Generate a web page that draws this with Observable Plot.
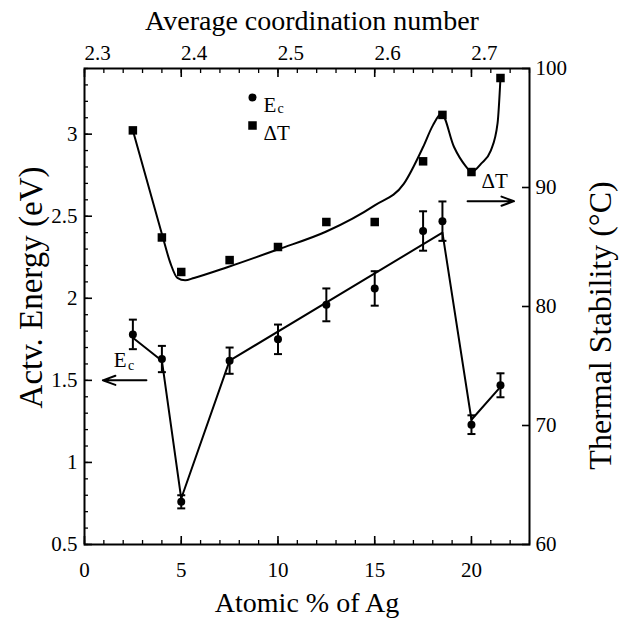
<!DOCTYPE html>
<html>
<head>
<meta charset="utf-8">
<script src="https://cdn.jsdelivr.net/npm/d3@7"></script>
<script src="https://cdn.jsdelivr.net/npm/@observablehq/plot@0.6"></script>
<style>
  html, body { margin: 0; padding: 0; background: #fff; }
  #chart { width: 623px; height: 624px; }
  #chart svg { font-family: "Liberation Serif", "Times New Roman", serif !important; }
</style>
</head>
<body>
<div id="chart"></div>
<script>
// ---- data ----
const agPct     = [2.5, 4, 5, 7.5, 10, 12.5, 15, 17.5, 18.5, 20, 21.5];
const ecValues  = [1.78, 1.63, 0.76, 1.62, 1.75, 1.96, 2.06, 2.41, 2.47, 1.23, 1.47];
const ecErrors  = [0.09, 0.08, 0.04, 0.08, 0.09, 0.10, 0.105, 0.12, 0.12, 0.057, 0.073];
const dtValues  = [94.8, 85.8, 82.9, 83.9, 85.0, 87.1, 87.1, 92.2, 96.1, 91.3, 99.2];

// fitted guide lines drawn in the figure
const ecFitX = [2.5, 4, 5, 7.5, 18.5, 20, 21.5];
const ecFitY = [1.76, 1.62, 0.78, 1.62, 2.40, 1.26, 1.46];
const dtFitX = [2.5, 4.0, 4.45, 4.8, 5.2, 5.66, 7.38, 10, 12.5, 15, 16.5, 17.5, 18.0, 18.45, 19.1, 19.7, 20.0, 20.5, 21.0, 21.35, 21.5];
const dtFitT = [94.8, 86.1, 83.6, 82.4, 82.2, 82.4, 83.3, 84.8, 86.3, 88.5, 90.3, 93.4, 95.2, 96.2, 93.4, 91.8, 91.3, 92.0, 93.1, 95.4, 99.2];

// axes
const xTicks    = [0, 5, 10, 15, 20];
const cnTicks   = [2.3, 2.4, 2.5, 2.6, 2.7];
const ecTicks   = [0.5, 1, 1.5, 2, 2.5, 3];
const tempTicks = [60, 70, 80, 90, 100];
const xDomain = [0, 23];
const ecDomain = [0.5, 3.4];
const tempDomain = [60, 100];

// text
const xLabel = "Atomic % of Ag";
const topLabel = "Average coordination number";
const leftLabel = "Actv. Energy (eV)";
const rightLabel = "Thermal Stability (\u00B0C)";

// annotations (data space)
const ecArrow = [{x1: 3.2, x2: 0.95, y: 1.5}];
const ecArrowLabel = [{x: 2.0, y: 1.58}];
const dtArrow = [{x1: 19.8, x2: 22.2, t: 88.85}];
const dtArrowLabel = [{x: 21.2, t: 90.0}];

// ---- conversions between the twin scales ----
const toLeft = t => ecDomain[0] + (t - tempDomain[0]) * (ecDomain[1] - ecDomain[0]) / (tempDomain[1] - tempDomain[0]);
const fromLeft = v => tempDomain[0] + (v - ecDomain[0]) * (tempDomain[1] - tempDomain[0]) / (ecDomain[1] - ecDomain[0]);
const cnToAg = cn => (cn - 2.3) / 0.02;
const agToCn = a => 2.3 + 0.02 * a;

const ecData = agPct.map((x, i) => ({x, e: ecValues[i], err: ecErrors[i]}));
const dtData = agPct.map((x, i) => ({x, t: dtValues[i]}));
const ecFit = ecFitX.map((x, i) => ({x, y: ecFitY[i]}));
const dtFit = dtFitX.map((x, i) => ({x, t: dtFitT[i]}));

const cap = { draw(ctx, size) { const r = Math.sqrt(size / Math.PI); ctx.moveTo(-r, 0); ctx.lineTo(r, 0); } };

const xMinor = d3.range(0, 24, 1);
const ecMinor = d3.range(0.5, 3.41, 0.1).map(v => +v.toFixed(2));

const chart = Plot.plot({
  width: 623,
  height: 624,
  marginLeft: 84,
  marginRight: 94,
  marginTop: 68,
  marginBottom: 80,
  style: "font-family: 'Liberation Serif', 'Times New Roman', serif; font-size: 20px; background: #fff; color: #000;",
  x: {domain: xDomain},
  y: {domain: ecDomain},
  marks: [
    // tick marks (inward)
    Plot.axisX({anchor: "bottom", ticks: xMinor, tickSize: -4, text: null, label: null, strokeWidth: 1.3}),
    Plot.axisX({anchor: "bottom", ticks: xTicks, tickSize: -8, text: null, label: null, strokeWidth: 1.6}),
    Plot.axisX({anchor: "top", ticks: xMinor, tickSize: -4, text: null, label: null, strokeWidth: 1.3}),
    Plot.axisX({anchor: "top", ticks: cnTicks.map(cnToAg), tickSize: -8, text: null, label: null, strokeWidth: 1.6}),
    Plot.axisY({anchor: "left", ticks: ecMinor, tickSize: -4, text: null, label: null, strokeWidth: 1.3}),
    Plot.axisY({anchor: "left", ticks: ecTicks, tickSize: -8, text: null, label: null, strokeWidth: 1.6}),
    Plot.axisY({anchor: "right", ticks: tempTicks.map(toLeft), tickSize: -8, text: null, label: null, strokeWidth: 1.6}),
    // tick labels
    Plot.axisX({anchor: "bottom", ticks: xTicks, tickSize: 0, tickPadding: 18, label: null, fontSize: 21}),
    Plot.axisX({anchor: "top", ticks: cnTicks.map(cnToAg), tickSize: 0, tickPadding: 9, dx: 13, label: null,
      tickFormat: d => agToCn(d).toFixed(1), fontSize: 21}),
    Plot.axisY({anchor: "left", ticks: ecTicks, tickSize: 0, tickPadding: 7, label: null, tickFormat: d => String(d), fontSize: 21}),
    Plot.axisY({anchor: "right", ticks: tempTicks.map(toLeft), tickSize: 0, tickPadding: 6, label: null,
      tickFormat: d => String(Math.round(fromLeft(d))), fontSize: 21}),
    // axis titles
    Plot.text([xLabel], {frameAnchor: "bottom", text: d => d, dy: 48, lineAnchor: "top", fontSize: 28}),
    Plot.text([topLabel], {frameAnchor: "top", text: d => d, dy: -39, lineAnchor: "bottom", fontSize: 28, dx: 5}),
    Plot.text([leftLabel], {frameAnchor: "left", text: d => d, rotate: -90, textAnchor: "middle", lineAnchor: "middle", dx: -53, dy: -19, fontSize: 33}),
    Plot.text([rightLabel], {frameAnchor: "right", text: d => d, rotate: -90, textAnchor: "middle", lineAnchor: "middle", dx: 71, dy: 19, fontSize: 32}),
    // frame
    Plot.frame({stroke: "#000", strokeWidth: 2}),
    // ΔT fit curve and points
    Plot.line(dtFit, {x: "x", y: d => toLeft(d.t), curve: "monotone-x", stroke: "#000", strokeWidth: 2}),
    Plot.dot(dtData, {x: "x", y: d => toLeft(d.t), symbol: "square", r: 4.8, fill: "#000", stroke: "none"}),
    // Ec fit line, error bars, points
    Plot.line(ecFit, {x: "x", y: "y", stroke: "#000", strokeWidth: 2}),
    Plot.ruleX(ecData, {x: "x", y1: d => d.e - d.err, y2: d => d.e + d.err, stroke: "#000", strokeWidth: 2}),
    Plot.dot(ecData, {x: "x", y: d => d.e + d.err, symbol: cap, r: 4, stroke: "#000", strokeWidth: 2, fill: "none"}),
    Plot.dot(ecData, {x: "x", y: d => d.e - d.err, symbol: cap, r: 4, stroke: "#000", strokeWidth: 2, fill: "none"}),
    Plot.dot(ecData, {x: "x", y: "e", r: 4, fill: "#000", stroke: "none"}),
    // legend
    Plot.dot([0], {frameAnchor: "top-left", dx: 168, dy: 29, r: 4, fill: "#000", stroke: "none"}),
    Plot.text(["E"], {frameAnchor: "top-left", text: d => d, dx: 179, dy: 29, textAnchor: "start", fontSize: 21}),
    Plot.text(["c"], {frameAnchor: "top-left", text: d => d, dx: 193, dy: 35, textAnchor: "start", fontSize: 14}),
    Plot.dot([0], {frameAnchor: "top-left", dx: 168, dy: 57, symbol: "square", r: 4.8, fill: "#000", stroke: "none"}),
    Plot.text(["\u0394T"], {frameAnchor: "top-left", text: d => d, dx: 179, dy: 57, textAnchor: "start", fontSize: 21}),
    // annotations with arrows
    Plot.arrow(ecArrow, {x1: "x1", x2: "x2", y1: "y", y2: "y", stroke: "#000", strokeWidth: 2, headLength: 10, headAngle: 40}),
    Plot.text(ecArrowLabel, {x: "x", y: "y", text: () => "E", fontSize: 21, lineAnchor: "bottom", dx: -3}),
    Plot.text(ecArrowLabel, {x: "x", y: "y", text: () => "c", fontSize: 14, lineAnchor: "bottom", dx: 8, dy: 3}),
    Plot.arrow(dtArrow, {x1: "x1", x2: "x2", y1: d => toLeft(d.t), y2: d => toLeft(d.t), stroke: "#000", strokeWidth: 2, headLength: 10, headAngle: 40}),
    Plot.text(dtArrowLabel, {x: "x", y: d => toLeft(d.t), text: () => "\u0394T", fontSize: 21, lineAnchor: "bottom"})
  ]
});
document.getElementById("chart").appendChild(chart);
</script>
</body>
</html>
